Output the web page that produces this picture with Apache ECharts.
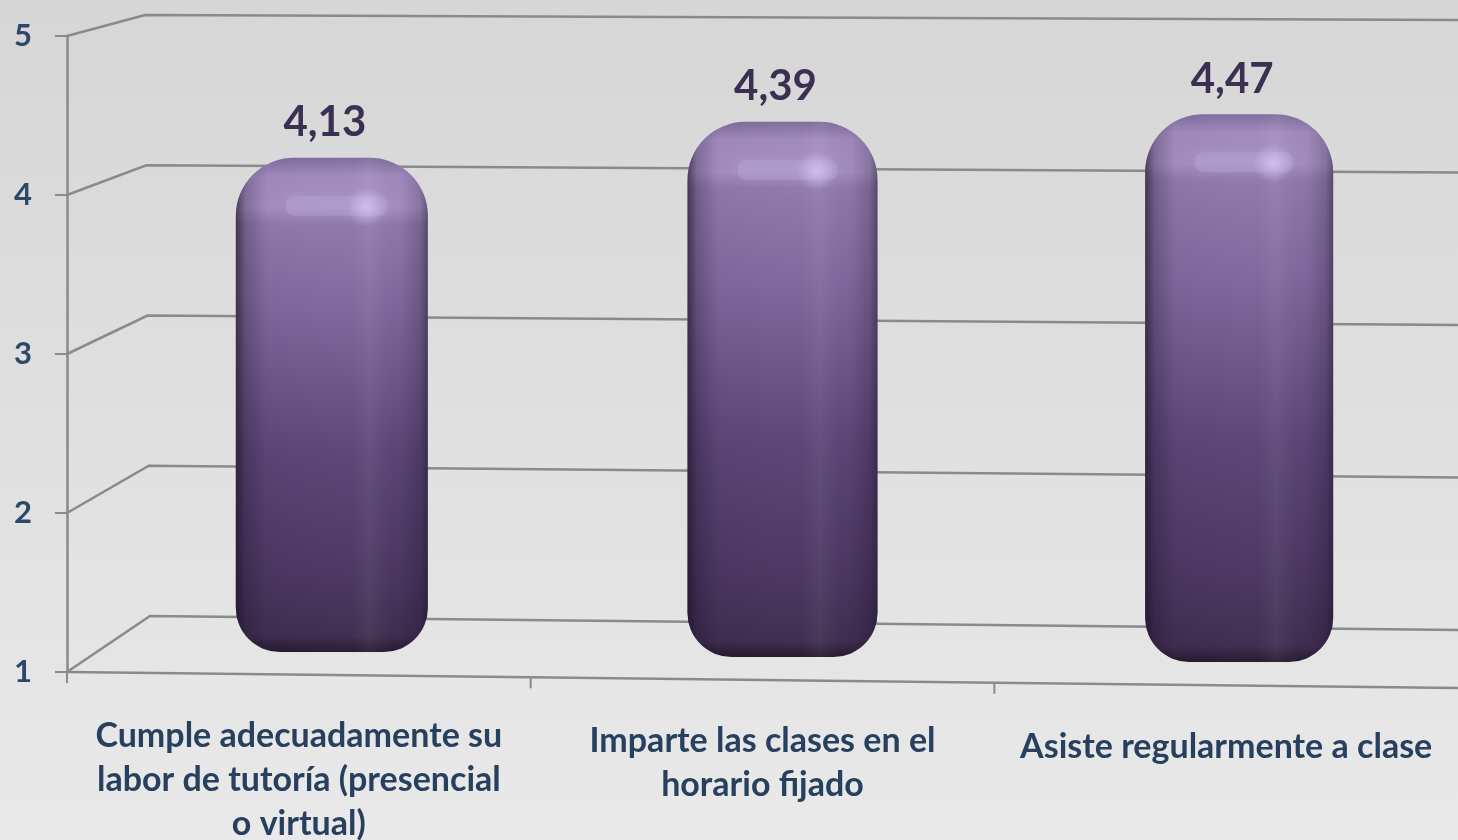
<!DOCTYPE html>
<html>
<head>
<meta charset="utf-8">
<title>Valoración</title>
<style>
  html, body { margin: 0; padding: 0; background: #e0e0e0; }
  #chart { width: 1458px; height: 840px; }
</style>
<script src="https://cdn.jsdelivr.net/npm/echarts@6/dist/echarts.min.js"></script>
</head>
<body>
<div id="chart"></div>
<script>
// valores
var categories = [
  'Cumple adecuadamente su\nlabor de tutoría (presencial\no virtual)',
  'Imparte las clases en el\nhorario fijado',
  'Asiste regularmente a clase'
];
var scores = [4.13, 4.39, 4.47];
var yTicks = [1, 2, 3, 4, 5];

// ajustes de la falsa perspectiva
var labelTopPad = [0, 5, 11];
var barShift = [33, 20, 13];
var barWidth = [192, 190, 188];
var font = 'Lato';
var lineColor = '#8a8a8a';

var chart = echarts.init(document.getElementById('chart'));
var G = echarts.graphic;

// pared del fondo y lateral: cada marca del eje se lleva al plano trasero
function renderWall(params, api) {
  var front = api.coord([0, api.value(0)]);
  var x0 = params.coordSys.x;
  var xEnd = params.coordSys.x + params.coordSys.width;
  var y = front[1];
  var k = (y - 36) / 636;
  var backX = x0 + 78 + k * 5;
  var backY = y - 21 - k * 35;
  var endY = y - 21 - k * 35 + 5 + k * 9;
  return {
    type: 'polyline',
    shape: { points: [[x0, y], [backX, backY], [xEnd, endY]] },
    style: { stroke: lineColor, lineWidth: 2.5, fill: null }
  };
}

// suelo inclinado y sus marcas
function renderFloor(params, api) {
  var i = api.value(0);
  var cs = params.coordSys;
  var band = api.size([1, 0])[0];
  var x = api.coord([i, 1])[0] - band / 2;
  var yBase = api.coord([i, 1])[1];
  var slope = 16 / cs.width;
  var y = yBase + (x - cs.x) * slope;
  var children = [{
    type: 'line',
    shape: { x1: x, y1: y, x2: x, y2: y + 11 },
    style: { stroke: lineColor, lineWidth: 2 }
  }, {
    type: 'line',
    shape: { x1: x, y1: y, x2: x + band, y2: y + band * slope },
    style: { stroke: lineColor, lineWidth: 2.5 }
  }];
  return { type: 'group', children: children };
}

function renderBar(params, api) {
  var i = api.value(0);
  var v = api.value(1);
  var base = api.coord([i, 1]);
  var head = api.coord([i, v]);
  var w = barWidth[i];
  var x = base[0] + barShift[i] - w / 2;
  var bottom = base[1] - 20 + 5 * i;
  var top = bottom - (base[1] - head[1]) * 0.993;
  var h = bottom - top;
  var shape = { x: x, y: top, width: w, height: h, r: [58, 58, 44, 44] };
  var stop = function (px) { return Math.min(1, px / h); };

  var body = new G.LinearGradient(0, 0, 0, 1, [
    { offset: 0, color: '#7f6b9c' },
    { offset: stop(18), color: '#a08abd' },
    { offset: stop(50), color: '#a48ec1' },
    { offset: stop(66), color: '#8f79ab' },
    { offset: 0.3, color: '#7f689c' },
    { offset: 0.6, color: '#5b4576' },
    { offset: 0.85, color: '#4a3660' },
    { offset: 1 - stop(16), color: '#3f2d50' },
    { offset: 1, color: '#241a30' }
  ]);
  var sides = new G.LinearGradient(0, 0, 1, 0, [
    { offset: 0, color: 'rgba(20,12,30,0.62)' },
    { offset: 0.05, color: 'rgba(20,12,30,0.25)' },
    { offset: 0.16, color: 'rgba(20,12,30,0.02)' },
    { offset: 0.6, color: 'rgba(255,255,255,0.01)' },
    { offset: 0.7, color: 'rgba(255,255,255,0.06)' },
    { offset: 0.86, color: 'rgba(20,12,30,0.02)' },
    { offset: 0.96, color: 'rgba(20,12,30,0.2)' },
    { offset: 1, color: 'rgba(20,12,30,0.45)' }
  ]);
  var spotX = x + w * 0.68;
  var spotY = top + 49;
  var spot = new G.RadialGradient(0.5, 0.5, 0.5, [
    { offset: 0, color: 'rgba(218,200,245,0.75)' },
    { offset: 1, color: 'rgba(218,200,245,0)' }
  ]);
  var value = v.toFixed(2).replace('.', ',');

  return {
    type: 'group',
    children: [
      { type: 'rect', shape: shape, style: { fill: body } },
      { type: 'rect', shape: shape, style: { fill: sides } },
      {
        type: 'rect',
        shape: { x: x + 50, y: top + 38, width: w - 90, height: 20, r: 8 },
        style: {
          fill: 'rgba(195,175,222,0.28)',
          shadowBlur: 12,
          shadowColor: 'rgba(195,175,222,0.45)'
        }
      },
      {
        type: 'rect',
        shape: { x: spotX - 24, y: spotY - 20, width: 48, height: 40 },
        style: { fill: spot }
      },
      {
        type: 'text',
        style: {
          text: value,
          x: base[0] + barShift[i] - 7,
          y: top - 35,
          align: 'center',
          verticalAlign: 'middle',
          fill: '#3b3052',
          fontFamily: font,
          fontWeight: 'bold',
          fontSize: 42
        }
      }
    ]
  };
}

chart.setOption({
  animation: false,
  backgroundColor: new G.LinearGradient(0, 0, 0, 1, [
    { offset: 0, color: '#d6d6d6' },
    { offset: 1, color: '#e9e9e9' }
  ]),
  grid: { left: 67, right: 0, top: 36, bottom: 168, outerBoundsMode: 'none' },
  xAxis: {
    type: 'category',
    data: categories.map(function (name, i) {
      return { value: name, textStyle: { padding: [labelTopPad[i], 0, 0, 0] } };
    }),
    axisLine: { show: false },
    axisTick: { show: false },
    axisLabel: {
      interval: 0,
      margin: 42,
      color: '#27405f',
      fontFamily: font,
      fontWeight: 'bold',
      fontSize: 34,
      lineHeight: 44
    }
  },
  yAxis: {
    type: 'value',
    min: 1,
    max: 5,
    interval: 1,
    splitLine: { show: false },
    axisLine: { show: true, lineStyle: { color: lineColor, width: 2.5 } },
    axisTick: { show: true, length: 12, lineStyle: { color: lineColor, width: 2 } },
    axisLabel: {
      margin: 35,
      padding: [6, 0, 0, 0],
      color: '#2c4869',
      fontFamily: font,
      fontWeight: 'bold',
      fontSize: 31
    }
  },
  series: [
    {
      type: 'custom',
      renderItem: renderWall,
      data: yTicks.map(function (t) { return [t]; }),
      encode: { y: 0 },
      z: 1,
      silent: true
    },
    {
      type: 'custom',
      renderItem: renderFloor,
      data: categories.map(function (c, i) { return [i]; }),
      encode: { x: 0 },
      z: 2,
      silent: true
    },
    {
      type: 'custom',
      renderItem: renderBar,
      data: scores.map(function (s, i) { return [i, s]; }),
      encode: { x: 0, y: 1 },
      z: 3,
      silent: true
    }
  ]
});
</script>
</body>
</html>
